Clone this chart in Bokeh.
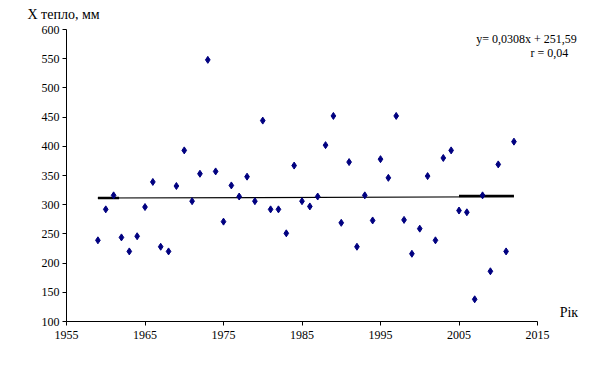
import numpy as np
from bokeh.plotting import figure
from bokeh.models import Label, FixedTicker, Range1d, Title
from bokeh.embed import file_html
from bokeh.resources import INLINE

years = list(range(1959, 2013))
values = [239, 292, 316, 244, 220, 246, 296, 339, 228, 220,
          332, 393, 306, 353, 548, 357, 271, 333, 314, 348,
          306, 444, 292, 292, 251, 367, 306, 297, 314, 402,
          452, 269, 373, 228, 316, 273, 378, 346, 452, 274,
          216, 259, 349, 239, 380, 393, 290, 287, 138, 316,
          186, 369, 220, 408]
x_ticks = [1955, 1965, 1975, 1985, 1995, 2005, 2015]
y_ticks = [100, 150, 200, 250, 300, 350, 400, 450, 500, 550, 600]
equation = "y= 0,0308x + 251,59"
r_text = "r = 0,04"
y_title = "X тепло, мм"
x_title = "Рік"

FONT = "Liberation Serif"

# pixel targets for the axis box (canvas px)
L_PX, R_PX, T_PX, B_PX = 66.0, 537.0, 29.0, 321.0
W, H = 596, 363
BL, BT = int(L_PX), 22
BB = H - int(B_PX)
xs = (2015 - 1955) / (R_PX - L_PX)
ys = (600 - 100) / (B_PX - T_PX)
x_range = Range1d(1955, 2015 + (W - R_PX) * xs)
y_range = Range1d(100, 600 + (T_PX - BT) * ys)

p = figure(width=W, height=H, output_backend="svg", toolbar_location=None,
           x_range=x_range, y_range=y_range,
           min_border_left=BL, min_border_right=0, min_border_top=BT,
           min_border_bottom=BB)
p.outline_line_color = None
p.background_fill_color = "white"
p.border_fill_color = "white"
p.grid.visible = False

xaxis = p.xaxis[0]
yaxis = p.yaxis[0]
xaxis.ticker = FixedTicker(ticks=x_ticks)
xaxis.bounds = (1955, 2015)
yaxis.ticker = FixedTicker(ticks=y_ticks)
yaxis.bounds = (100, 600)
for ax in (xaxis, yaxis):
    ax.axis_line_color = "black"
    ax.axis_line_width = 1
    ax.major_tick_line_color = "black"
    ax.major_tick_in = 0
    ax.major_tick_out = 4
    ax.minor_tick_line_color = None
    ax.major_label_text_font = FONT
    ax.major_label_text_font_size = "12px"
    ax.major_label_text_color = "black"
xaxis.major_label_standoff = 5
yaxis.major_label_standoff = 3

# trend line fitted to the data
coef = np.polyfit(years, values, 1)
tx = [years[0], years[-1]]
ty = [coef[0] * t + coef[1] for t in tx]
p.line(tx, ty, line_color="black", line_width=1.2)
p.line([years[0], years[2] + 0.7], [coef[0] * years[0] + coef[1]] * 2,
       line_color="black", line_width=2.5)
p.line([2005, years[-1]], [coef[0] * 2008 + coef[1] + 1.5] * 2,
       line_color="black", line_width=2.5)

p.scatter(years, values, marker="diamond", size=7, color="#000080")

p.add_layout(Title(text=y_title, align="left", offset=-39, standoff=2,
                   text_font=FONT, text_font_size="14px", text_font_style="normal",
                   text_color="black"), "above")
p.add_layout(Label(x=2019.0, y=116, text=x_title, text_font=FONT, text_font_size="14px",
                   text_color="black", text_baseline="middle", text_align="center"))
p.add_layout(Label(x=2020.0, y=583, text=equation, text_font=FONT, text_font_size="12px",
                   text_color="black", text_baseline="middle", text_align="right"))
p.add_layout(Label(x=2016.5, y=559, text=r_text, text_font=FONT, text_font_size="12px",
                   text_color="black", text_baseline="middle", text_align="center"))

open("out.html", "w").write(file_html(p, INLINE))
